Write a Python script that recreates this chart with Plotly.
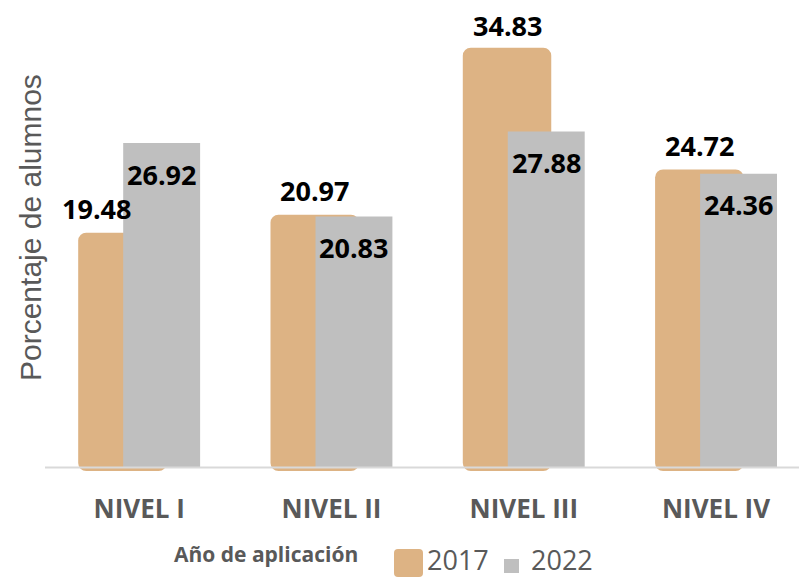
import plotly.graph_objects as go

categories = ["NIVEL I", "NIVEL II", "NIVEL III", "NIVEL IV"]
values_2017 = [19.48, 20.97, 34.83, 24.72]
values_2022 = [26.92, 20.83, 27.88, 24.36]
series_names = ["2017", "2022"]
legend_title = "Año de aplicación"
y_title = "Porcentaje de alumnos"

C2017 = "#DDB384"
C2022 = "#BFBFBF"
GREY_TXT = "#595959"

OFF = 8  # page body margin in the browser
W, H = 807 - OFF, 578 - OFF
ML, MR, MT, MB = 35, 0, 0, 107
PW, PH = W - ML - MR, H - MT - MB
k = 12.05  # px per unit
ymin = -0.3
ymax = ymin + PH / k

x = list(range(len(categories)))
off17, w17 = -0.317, 0.46
off22, w22 = -0.083, 0.40


def px_x(px):  # reference pixel -> paper x
    return (px - OFF - ML) / PW


def px_y(py):  # reference pixel -> paper y
    return (H - MB - (py - OFF)) / PH


fig = go.Figure()
fig.add_trace(go.Bar(
    x=x, y=[v - ymin for v in values_2017], name=series_names[0], base=ymin,
    offset=off17, width=w17,
    marker=dict(color=C2017, cornerradius=8, line=dict(width=0)),
    hoverinfo="skip", showlegend=False,
))
fig.add_trace(go.Bar(
    x=x, y=values_2022, name=series_names[1],
    offset=off22, width=w22,
    marker=dict(color=C2022, line=dict(width=0)),
    hoverinfo="skip", showlegend=False,
))

ann = []
lab_font = dict(family="Open Sans", size=27, color="#000000")
xshift17 = [-26, 0, 0, 0]
yshift17 = [24, 24, 22, 24]
for i, v in enumerate(values_2017):
    ann.append(dict(x=i + off17 + w17 / 2, y=v, text=f"<b>{v:.2f}</b>", showarrow=False,
                    xref="x", yref="y", yanchor="middle", yshift=yshift17[i], xshift=xshift17[i],
                    font=lab_font))
for i, v in enumerate(values_2022):
    ann.append(dict(x=i + off22 + w22 / 2, y=v, text=f"<b>{v:.2f}</b>", showarrow=False,
                    xref="x", yref="y", yanchor="middle", yshift=-31, font=lab_font))
ann.append(dict(x=px_x(30), y=px_y(228), xref="paper", yref="paper",
                text=y_title, textangle=-90, showarrow=False,
                xanchor="center", yanchor="middle",
                font=dict(family="Liberation Sans, Arial", size=30, color=GREY_TXT)))

# custom legend
ann.append(dict(x=px_x(172), y=px_y(554), xref="paper", yref="paper", text=f"<b>{legend_title}</b>",
                showarrow=False, xanchor="left", yanchor="middle",
                font=dict(family="Open Sans", size=21, color=GREY_TXT)))
ann.append(dict(x=px_x(425), y=px_y(559), xref="paper", yref="paper", text=series_names[0],
                showarrow=False, xanchor="left", yanchor="middle",
                font=dict(family="Open Sans", size=27, color=GREY_TXT)))
ann.append(dict(x=px_x(529), y=px_y(559), xref="paper", yref="paper", text=series_names[1],
                showarrow=False, xanchor="left", yanchor="middle",
                font=dict(family="Open Sans", size=27, color=GREY_TXT)))


def rrect(x0, y0, x1, y1, r):
    X0, X1 = px_x(x0), px_x(x1)
    Y0, Y1 = px_y(y0), px_y(y1)
    rx, ry = r / PW, r / PH
    return (f"M{X0+rx},{Y0} L{X1-rx},{Y0} Q{X1},{Y0} {X1},{Y0-ry} L{X1},{Y1+ry} "
            f"Q{X1},{Y1} {X1-rx},{Y1} L{X0+rx},{Y1} Q{X0},{Y1} {X0},{Y1+ry} "
            f"L{X0},{Y0-ry} Q{X0},{Y0} {X0+rx},{Y0} Z")


shapes = [
    dict(type="line", xref="paper", yref="y", x0=px_x(45), x1=1, y0=0, y1=0,
         line=dict(color="#D9D9D9", width=2), layer="above"),
    dict(type="path", xref="paper", yref="paper", path=rrect(394, 549, 423, 577, 4),
         fillcolor=C2017, line=dict(width=0)),
    dict(type="rect", xref="paper", yref="paper", x0=px_x(504), x1=px_x(519),
         y0=px_y(573), y1=px_y(559), fillcolor=C2022, line=dict(width=0)),
]

fig.update_layout(
    width=W, height=H,
    margin=dict(l=ML, r=MR, t=MT, b=MB, autoexpand=False),
    paper_bgcolor="white", plot_bgcolor="white",
    barmode="overlay",
    showlegend=False,
    xaxis=dict(
        tickmode="array", tickvals=x, ticktext=[f"<b>{c}</b>" for c in categories],
        range=[-0.5, -0.5 + PW / 192.3],
        showgrid=False, zeroline=False, showline=False, ticks="",
        ticklabelstandoff=20,
        tickfont=dict(family="Open Sans", size=26, color=GREY_TXT),
        fixedrange=True,
    ),
    yaxis=dict(range=[ymin, ymax], showgrid=False, zeroline=False, showline=False,
               showticklabels=False, ticks="", fixedrange=True),
    annotations=ann,
    shapes=shapes,
)

fig.write_html("out.html")
